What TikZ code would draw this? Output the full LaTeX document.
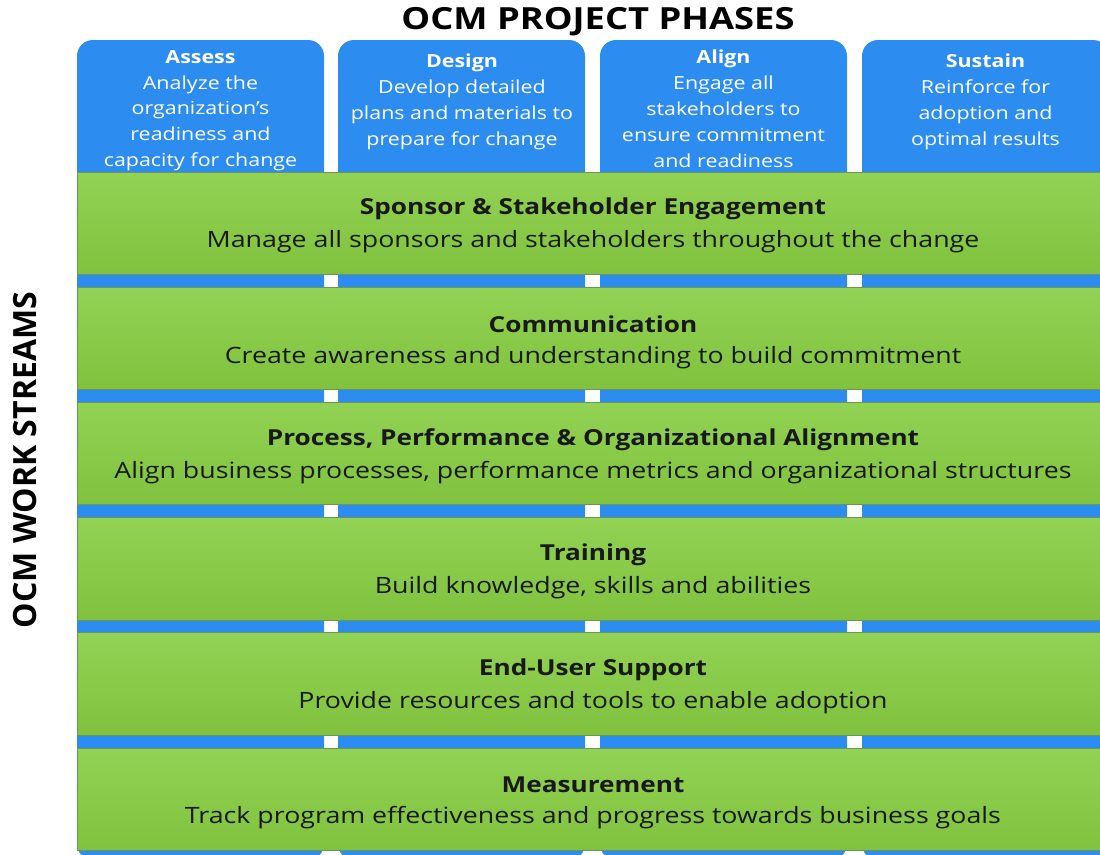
\documentclass[tikz,border=0pt]{standalone}
\usepackage{fontspec}
\setmainfont[FakeStretch=1.19]{Open Sans}
\newfontfamily\uprightfont{Open Sans}
\definecolor{phaseblue}{RGB}{44,140,240}
\definecolor{greentop}{RGB}{146,210,84}
\definecolor{greenbottom}{RGB}{128,194,62}
\definecolor{greenedge}{RGB}{108,150,84}
\begin{document}
\begin{tikzpicture}[x=1pt,y=-1pt,
  phasecol/.style={fill=phaseblue, rounded corners=16pt},
  phasetext/.style={text=white, align=center, inner sep=0pt, anchor=north,
    font=\fontsize{18}{25.9}\selectfont},
  streambar/.style={top color=greentop, bottom color=greenbottom, draw=greenedge, line width=1pt},
  streamtitle/.style={font=\fontsize{22}{26}\selectfont\bfseries, text=black!90, inner sep=0pt},
  streamdesc/.style={font=\fontsize{22.5}{26}\selectfont, text=black!90, inner sep=0pt},
  heading/.style={font=\fontsize{30.5}{36}\selectfont\bfseries, text=black, inner sep=0pt}]
\useasboundingbox (0,0) rectangle (1100,854);
\clip (0,0) rectangle (1100,854);

% phase columns
\foreach \x in {77,338,600,862}
  \fill[phasecol] (\x,40) rectangle ++(247,820);

% work stream bars
\foreach \k in {0,...,5}
  \draw[streambar] (77,172+115.2*\k) rectangle ++(1032,102.5);

% headings
\node[heading] (phases) at (598,22) {OCM PROJECT PHASES};
\node[heading, font=\uprightfont\fontsize{32}{36}\selectfont\bfseries, rotate=90] (streams) at (25,460) {OCM WORK STREAMS};

% phase texts
\node[phasetext] (assess) at (200.5,50) {\textbf{Assess}\\Analyze the\\organization’s\\readiness and\\capacity for change};
\node[phasetext] (design) at (462,54) {\textbf{Design}\\Develop detailed\\plans and materials to\\prepare for change};
\node[phasetext] (align) at (723.5,50) {\textbf{Align}\\Engage all\\stakeholders to\\ensure commitment\\and readiness};
\node[phasetext] (sustain) at (985.5,54) {\textbf{Sustain}\\Reinforce for\\adoption and\\optimal results};

% work stream texts
\foreach \k/\t/\d in {
  0/Sponsor \& Stakeholder Engagement/Manage all sponsors and stakeholders throughout the change,
  1/Communication/Create awareness and understanding to build commitment,
  2/{Process, Performance \& Organizational Alignment}/{Align business processes, performance metrics and organizational structures},
  3/Training/{Build knowledge, skills and abilities},
  4/End-User Support/Provide resources and tools to enable adoption,
  5/Measurement/Track program effectiveness and progress towards business goals} {
  \node[streamtitle] (title\k) at (593,172+115.2*\k+37) {\t};
  \node[streamdesc] (desc\k) at (593,172+115.2*\k+70) {\d};
}
\end{tikzpicture}
\end{document}
